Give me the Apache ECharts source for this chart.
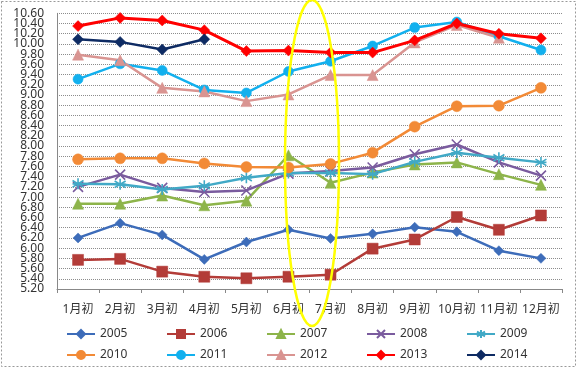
<!DOCTYPE html>
<html><head><meta charset="utf-8">
<script src="https://cdn.jsdelivr.net/npm/echarts@6/dist/echarts.min.js"></script>
<style>html,body{margin:0;padding:0;background:#fff}#c{width:578px;height:369px}</style>
</head><body><div id="c"></div>
<script>
const categories = ['1月初','2月初','3月初','4月初','5月初','6月初','7月初','8月初','9月初','10月初','11月初','12月初'];
const s2005 = [6.20,6.49,6.26,5.78,6.12,6.36,6.19,6.28,6.41,6.32,5.95,5.80];
const s2006 = [5.77,5.79,5.54,5.44,5.41,5.44,5.48,5.99,6.17,6.61,6.36,6.64];
const s2007 = [6.87,6.87,7.03,6.84,6.93,7.82,7.28,7.48,7.64,7.68,7.45,7.24];
const s2008 = [7.20,7.44,7.18,7.10,7.13,7.46,7.51,7.58,7.84,8.03,7.68,7.42];
const s2009 = [7.26,7.25,7.15,7.22,7.38,7.47,7.47,7.45,7.69,7.87,7.77,7.68];
const s2010 = [7.74,7.76,7.76,7.66,7.59,7.58,7.65,7.87,8.38,8.78,8.79,9.14];
const s2011 = [9.31,9.61,9.48,9.10,9.04,9.46,9.66,9.96,10.32,10.43,10.15,9.88];
const s2012 = [9.79,9.68,9.14,9.07,8.88,9.01,9.39,9.39,10.03,10.37,10.12,null];
const s2013 = [10.35,10.51,10.46,10.27,9.86,9.87,9.83,9.83,10.07,10.40,10.20,10.11];
const s2014 = [10.09,10.04,9.89,10.09,null,null,null,null,null,null,null,null];
const yearNames = ['2005','2006','2007','2008','2009','2010','2011','2012','2013','2014'];
const yMin = 5.2, yMax = 10.6, yStep = 0.2;

const allData = [s2005,s2006,s2007,s2008,s2009,s2010,s2011,s2012,s2013,s2014];
const colors = ['#3D6CB9','#B33C38','#8DB44A','#7A5B9E','#41A9C6','#F28A36','#12B0EE','#D99491','#FF0000','#0E2B63'];
const xPath = 'path://M0,0 L10,10 M10,0 L0,10';
const astPath = 'path://M5,0 L5,10 M0,2 L10,8 M0,8 L10,2 M0,5 L10,5';
const symbols = ['diamond','rect','triangle',xPath,astPath,'circle','circle','triangle','diamond','diamond'];
const sizes = [10,11,11,10,11,11,10,11,11,11];

const font = '"Noto Sans","Noto Sans CJK SC",sans-serif';
const series = yearNames.map((n,i)=>{
  const isStroke = (i===3||i===4);
  return {
    name:n, type:'line', data:allData[i], symbol:symbols[i], symbolSize:sizes[i],
    connectNulls:false, yAxisIndex:0,
    lineStyle:{color:colors[i], width:(i===8?3:2.5)},
    itemStyle: isStroke ? {color:'rgba(0,0,0,0)', borderColor:colors[i], borderWidth:1.6}
                        : {color:colors[i], borderColor:colors[i], borderWidth:0.5},
    emphasis:{disabled:true}, animation:false
  };
});
const legends = yearNames.map((n,i)=>({
  data:[n], left: 66 + (i%5)*100, top: (i<5?328:349), itemWidth:28, itemHeight:10,
  textStyle:{fontFamily:font, fontSize:12, color:'#333'}, padding:0, selectedMode:false
}));
const isEnd = v => Math.abs(v-yMin)<1e-6 || Math.abs(v-yMax)<1e-6;
const labelBase = {fontFamily:font, fontSize:12, color:'#333', margin:13};

const chart = echarts.init(document.getElementById('c'));
chart.setOption({
  animation:false,
  backgroundColor:'#fff',
  color: colors,
  grid:{left:57, right:16, top:13.3, bottom:80},
  legend: legends,
  xAxis:{type:'category', data:categories, boundaryGap:true,
    axisLine:{lineStyle:{color:'#888',width:1}},
    axisTick:{show:true, length:4, lineStyle:{color:'#888'}},
    axisLabel:{fontFamily:font, fontSize:12, color:'#333', margin:15, interval:0}},
  yAxis:[
    {type:'value', min:yMin, max:yMax, interval:yStep, position:'left',
    axisLine:{show:true, lineStyle:{color:'#888'}},
    axisTick:{show:false},
    axisLabel:Object.assign({showMinLabel:false, showMaxLabel:false, formatter:v=>v.toFixed(2)}, labelBase),
    splitLine:{lineStyle:{color:'#8c8c8c', type:[1,1], width:1}}},
    {type:'value', min:yMin, max:yMax, interval:yStep, position:'left', offset:0,
    axisLine:{show:false}, axisTick:{show:false}, splitLine:{show:false},
    axisLabel:Object.assign({showMinLabel:true, showMaxLabel:true, formatter:v=>isEnd(v)?v.toFixed(2):''}, labelBase)}
  ],
  series: series,
  graphic:[
    {type:'rect', shape:{x:1.5,y:1.5,width:574,height:365}, style:{fill:'none', stroke:'#999', lineWidth:1, lineDash:[2,2]}, silent:true, z:-1},
    {type:'ellipse', shape:{cx:312, cy:163, rx:27, ry:163}, style:{fill:'none', stroke:'#FFFF00', lineWidth:2.5}, z:100, silent:true}
  ]
});
</script></body></html>
